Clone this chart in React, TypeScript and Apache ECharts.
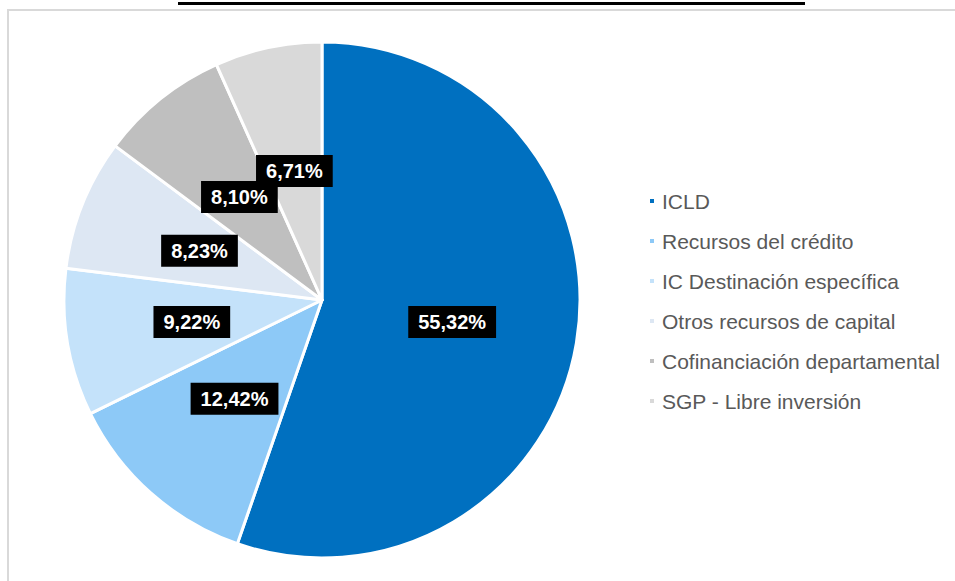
import React, { useEffect, useRef } from "react";
import * as echarts from "echarts";

const categories = [
  "ICLD",
  "Recursos del crédito",
  "IC Destinación específica",
  "Otros recursos de capital",
  "Cofinanciación departamental",
  "SGP - Libre inversión",
];
const values = [55.32, 12.42, 9.22, 8.23, 8.1, 6.71];
const colors = ["#0070C0", "#8DC9F7", "#C4E2FA", "#DDE7F3", "#BFBFBF", "#D9D9D9"];

export default function App() {
  const ref = useRef<HTMLDivElement>(null);
  useEffect(() => {
    document.body.style.margin = "0";
    const chart = echarts.init(ref.current!, undefined, { renderer: "svg" });
    chart.setOption({
      animation: false,
      backgroundColor: "#ffffff",
      graphic: [
        {
          type: "rect",
          shape: { x: 8, y: 10, width: 1000, height: 700 },
          style: { fill: "none", stroke: "#D9D9D9", lineWidth: 2 },
          silent: true,
        },
        {
          type: "rect",
          shape: { x: 178, y: 2, width: 627, height: 3 },
          style: { fill: "#000000" },
          silent: true,
        },
      ],
      legend: {
        orient: "vertical",
        left: 648,
        top: 189,
        padding: 0,
        icon: "rect",
        itemWidth: 6,
        itemHeight: 6,
        itemGap: 16,
        textStyle: {
          fontFamily: "Liberation Sans, Arial, sans-serif",
          fontSize: 21,
          color: "#595959",
          lineHeight: 24,
          padding: [0, 0, 0, 2],
        },
        data: categories,
      },
      series: [
        {
          type: "pie",
          center: [322, 300],
          radius: [0, 258],
          startAngle: 90,
          clockwise: true,
          avoidLabelOverlap: false,
          labelLayout: { hideOverlap: false },
          itemStyle: { borderColor: "#ffffff", borderWidth: 3 },
          label: {
            show: true,
            position: "inside",
            formatter: (p: any) => p.value.toFixed(2).replace(".", ",") + "%",
            backgroundColor: "#000000",
            color: "#ffffff",
            fontFamily: "Liberation Sans, Arial, sans-serif",
            fontWeight: "bold",
            fontSize: 20,
            padding: [6, 10, 6, 10],
          },
          labelLine: { show: false },
          emphasis: { disabled: true },
          data: categories.map((name, i) => ({
            name,
            value: values[i],
            itemStyle: { color: colors[i] },
          })),
        },
      ],
    });
    return () => chart.dispose();
  }, []);
  return (
    <div
      ref={ref}
      style={{ position: "absolute", left: 0, top: 0, width: 955, height: 581 }}
    />
  );
}
